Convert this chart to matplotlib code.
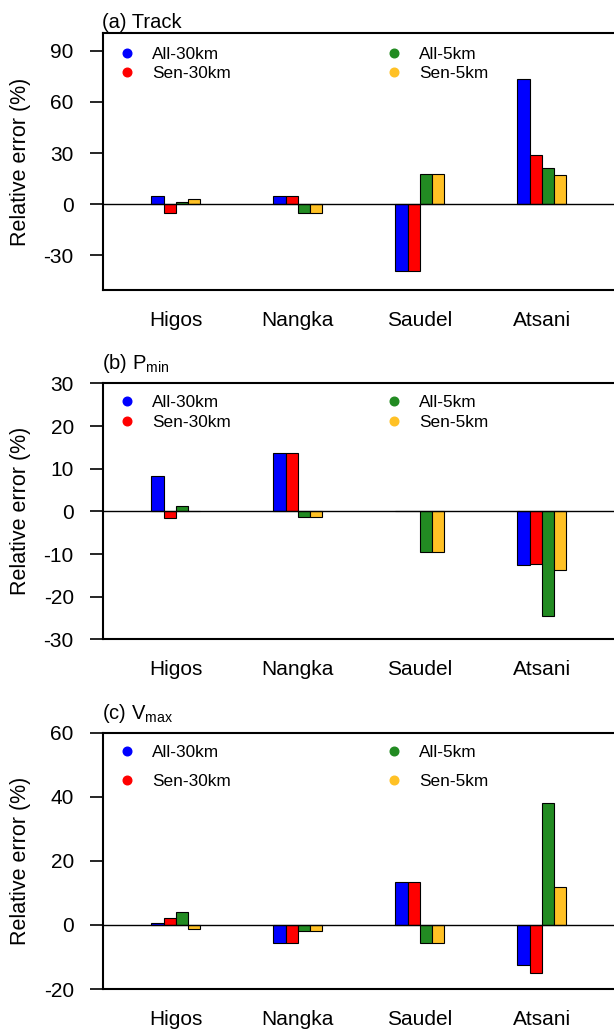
import numpy as np
import matplotlib
matplotlib.use("Agg")
import matplotlib.pyplot as plt
from matplotlib.lines import Line2D

plt.rcParams['font.family'] = ['Liberation Sans', 'DejaVu Sans']
plt.rcParams['mathtext.fontset'] = 'custom'
plt.rcParams['mathtext.rm'] = 'Liberation Sans'
plt.rcParams['mathtext.it'] = 'Liberation Sans'
plt.rcParams['axes.unicode_minus'] = False

storms = ["Higos", "Nangka", "Saudel", "Atsani"]
series = ["All-30km", "Sen-30km", "All-5km", "Sen-5km"]
colors = ["#0000FF", "#FF0000", "#228B22", "#FFC125"]

# relative error (%) per series, storms in order Higos, Nangka, Saudel, Atsani
track = {
    "All-30km": [4.7, 4.5, -39.6, 73.5],
    "Sen-30km": [-5.5, 4.5, -39.6, 28.6],
    "All-5km": [1.0, -5.5, 17.8, 21.0],
    "Sen-5km": [3.1, -5.5, 17.8, 16.9],
}
pmin = {
    "All-30km": [8.2, 13.6, 0.1, -12.6],
    "Sen-30km": [-1.5, 13.6, 0.1, -12.4],
    "All-5km": [1.3, -1.3, -9.5, -24.6],
    "Sen-5km": [0.1, -1.3, -9.5, -13.7],
}
vmax = {
    "All-30km": [0.5, -5.7, 13.5, -12.6],
    "Sen-30km": [2.1, -5.7, 13.5, -15.1],
    "All-5km": [4.0, -1.8, -5.7, 38.0],
    "Sen-5km": [-1.4, -1.8, -5.7, 11.9],
}

panels = [
    (track, "(a) Track", (-50.5, 100.3), [-30, 0, 30, 60, 90], 0.981, 0.22, 4),
    (pmin, "(b) P$_{\\mathrm{min}}$", (-30, 30), [-30, -20, -10, 0, 10, 20, 30], 0.989, 0.3, 10),
    (vmax, "(c) V$_{\\mathrm{max}}$", (-20, 60), [-20, 0, 20, 40, 60], 0.986, 0.79, 10),
]
# axes boxes in figure fraction: left, bottom, width, height
boxes = [
    [0.1671, 0.7184, 0.8345, 0.2492],
    [0.1671, 0.3793, 0.8345, 0.2485],
    [0.1671, 0.0398, 0.8345, 0.2488],
]

fig = plt.figure(figsize=(6.14, 10.30), dpi=100)

xpos = np.arange(1, len(storms) + 1)
bw = 0.1
offsets = [-1.5 * bw, -0.5 * bw, 0.5 * bw, 1.5 * bw]

for (data, title, ylim, yticks, leg_y, leg_sp, tpad), box in zip(panels, boxes):
    ax = fig.add_axes(box)
    for s, c, off in zip(series, colors, offsets):
        ax.bar(xpos + off, data[s], width=bw, color=c, edgecolor='black', linewidth=0.8, zorder=2)
    ax.axhline(0, color='black', linewidth=1.0, zorder=3)
    ax.set_xlim(0.4, 4.6)
    ax.set_ylim(*ylim)
    ax.set_yticks(yticks)
    ax.set_xticks(xpos)
    ax.set_xticklabels(storms)
    ax.tick_params(axis='x', length=0, pad=15, labelsize=15)
    ax.tick_params(axis='y', length=9.7, width=1.2, pad=11, labelsize=15, direction='out')
    ax.set_ylabel("Relative error (%)", fontsize=15.5)
    ax.yaxis.set_label_coords(-0.139, 0.5)
    ax.spines['right'].set_visible(False)
    for sp in ['left', 'top', 'bottom']:
        ax.spines[sp].set_linewidth(1.5)
    ax.set_title(title, loc='left', fontsize=14.5, pad=tpad, x=-0.002)

    handles = [Line2D([], [], marker='o', linestyle='none', color=c, markersize=6.2) for c in colors]
    ax.legend(handles, series, ncol=2, loc='upper left', bbox_to_anchor=(0.0145, leg_y),
              frameon=False, fontsize=12.4, borderpad=0, handlelength=1.0,
              handletextpad=0.94, columnspacing=9.0, labelspacing=leg_sp)

fig.savefig("out.png", dpi=100)
